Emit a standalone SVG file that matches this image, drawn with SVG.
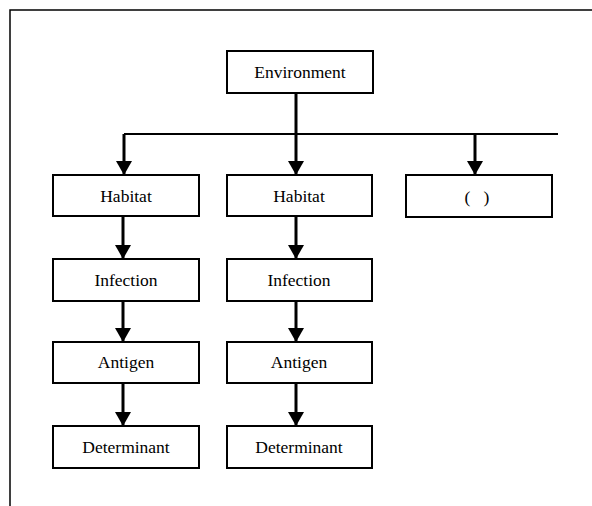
<svg xmlns="http://www.w3.org/2000/svg" width="592" height="506" viewBox="0 0 592 506">
<defs>
<style>
.box{fill:#fff;stroke:#000;stroke-width:2}
.lbl{font-family:"Liberation Serif","Times New Roman",serif;font-size:17.5px;fill:#000;text-anchor:middle}
.arr{stroke:#000;stroke-width:3;fill:none}
.thin{stroke:#000;stroke-width:2;fill:none}
</style>
<marker id="ah" markerUnits="userSpaceOnUse" markerWidth="14" markerHeight="16" refX="14" refY="8" orient="auto" viewBox="0 0 14 16">
<path d="M0,0 L14,8 L0,16 Z" fill="#000"/>
</marker>
</defs>
<rect width="592" height="506" fill="#fff"/>
<path d="M10,506 V10 H592" stroke="#000" stroke-width="1.5" fill="none"/>
<g id="connectors">
<line class="thin" x1="124" y1="134" x2="558" y2="134"/>
<line class="arr" x1="296" y1="93" x2="296" y2="175" marker-end="url(#ah)"/>
<line class="arr" x1="124" y1="134" x2="124" y2="175" marker-end="url(#ah)"/>
<line class="arr" x1="475" y1="134" x2="475" y2="175" marker-end="url(#ah)"/>
<line class="arr" x1="123" y1="216" x2="123" y2="259" marker-end="url(#ah)"/>
<line class="arr" x1="296" y1="216" x2="296" y2="259" marker-end="url(#ah)"/>
<line class="arr" x1="123" y1="301" x2="123" y2="342" marker-end="url(#ah)"/>
<line class="arr" x1="296" y1="301" x2="296" y2="342" marker-end="url(#ah)"/>
<line class="arr" x1="123" y1="383" x2="123" y2="426" marker-end="url(#ah)"/>
<line class="arr" x1="296" y1="383" x2="296" y2="426" marker-end="url(#ah)"/>
</g>
<g id="environment"><rect class="box" x="227" y="51" width="146" height="42"/><text class="lbl" x="300" y="78">Environment</text></g>
<g id="habitat1"><rect class="box" x="53" y="175" width="146" height="41"/><text class="lbl" x="126" y="202">Habitat</text></g>
<g id="habitat2"><rect class="box" x="227" y="175" width="145" height="41"/><text class="lbl" x="299" y="202">Habitat</text></g>
<g id="blank"><rect class="box" x="406" y="175" width="146" height="42"/><text class="lbl" x="477" y="203">(&#160;&#160;&#160;)</text></g>
<g id="infection1"><rect class="box" x="53" y="259" width="146" height="42"/><text class="lbl" x="126" y="286">Infection</text></g>
<g id="infection2"><rect class="box" x="227" y="259" width="145" height="42"/><text class="lbl" x="299" y="286">Infection</text></g>
<g id="antigen1"><rect class="box" x="53" y="342" width="146" height="41"/><text class="lbl" x="126" y="368">Antigen</text></g>
<g id="antigen2"><rect class="box" x="227" y="342" width="145" height="41"/><text class="lbl" x="299" y="368">Antigen</text></g>
<g id="determinant1"><rect class="box" x="53" y="426" width="146" height="42"/><text class="lbl" x="126" y="453">Determinant</text></g>
<g id="determinant2"><rect class="box" x="227" y="426" width="145" height="42"/><text class="lbl" x="299" y="453">Determinant</text></g>
</svg>
